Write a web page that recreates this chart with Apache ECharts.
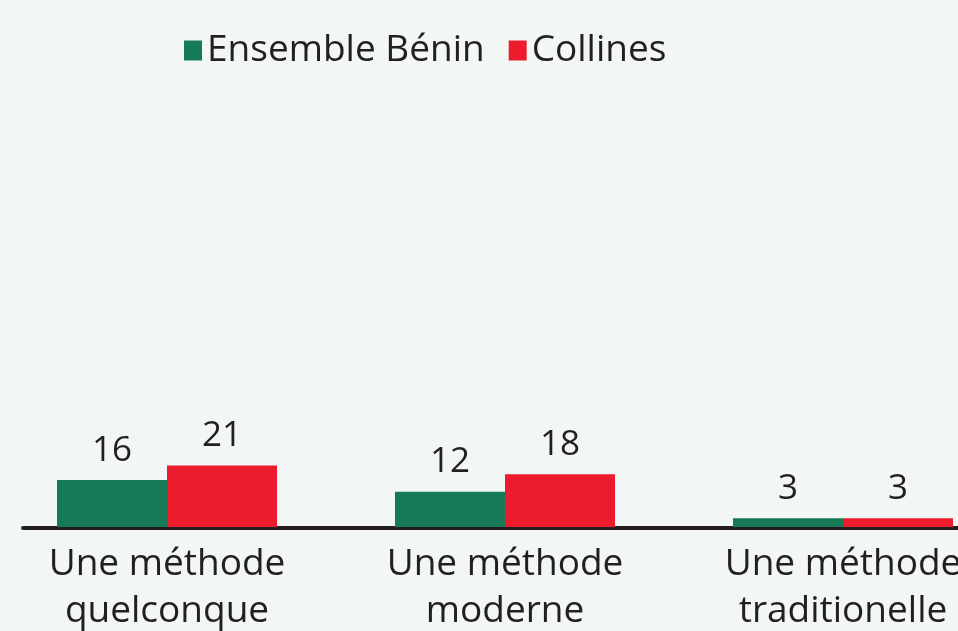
<!DOCTYPE html>
<html>
<head>
<meta charset="utf-8">
<script src="https://cdn.jsdelivr.net/npm/echarts@6/dist/echarts.min.js"></script>
<style>
html,body{margin:0;padding:0;background:#f2f6f5;}
#chart{width:958px;height:631px;}
</style>
</head>
<body>
<div id="chart"></div>
<script>
var categories = ['Une méthode\nquelconque', 'Une méthode\nmoderne', 'Une méthode\ntraditionelle'];
var seriesNames = ['Ensemble Bénin', 'Collines'];
var beninValues = [16, 12, 3];
var collinesValues = [21, 18, 3];

var chart = echarts.init(document.getElementById('chart'));
var font = '"Open Sans", "Noto Sans", sans-serif';
chart.setOption({
	backgroundColor: '#f2f6f5',
	animation: false,
	color: ['#167a56', '#ec1c2e'],
	legend: {
		data: seriesNames,
		left: 179,
		top: 27,
		itemWidth: 18,
		itemHeight: 20,
		itemGap: 24,
		icon: 'rect',
		textStyle: {fontFamily: font, fontSize: 37, color: '#231f20'}
	},
	grid: [
		{left: -2, top: 234, width: 1014, height: 293, outerBoundsMode: 'none', containLabel: false},
		// baseline only, starts a bit in from the left edge
		{left: 23, top: 234, width: 960, height: 294, outerBoundsMode: 'none', containLabel: false}
	],
	xAxis: [
		{
			type: 'category',
			gridIndex: 0,
			data: categories,
			axisTick: {show: false},
			axisLine: {show: false},
			axisLabel: {fontFamily: font, fontSize: 37, color: '#231f20', lineHeight: 47, margin: 14, interval: 0}
		},
		{
			type: 'category',
			gridIndex: 1,
			data: categories,
			axisTick: {show: false},
			axisLabel: {show: false},
			axisLine: {lineStyle: {color: '#231f20', width: 4}}
		}
	],
	yAxis: [
		{type: 'value', gridIndex: 0, min: 0, max: 100, show: false, splitLine: {show: false}},
		{type: 'value', gridIndex: 1, min: 0, max: 100, show: false, splitLine: {show: false}}
	],
	series: [
		{
			name: seriesNames[0], type: 'bar', data: beninValues, barWidth: 110, barGap: '0%',
			label: {show: true, position: 'top', distance: 12, fontFamily: font, fontSize: 35, color: '#231f20'}
		},
		{
			name: seriesNames[1], type: 'bar', data: collinesValues, barWidth: 110, barGap: '0%',
			label: {show: true, position: 'top', distance: 12, fontFamily: font, fontSize: 35, color: '#231f20'}
		}
	]
});
</script>
</body>
</html>
